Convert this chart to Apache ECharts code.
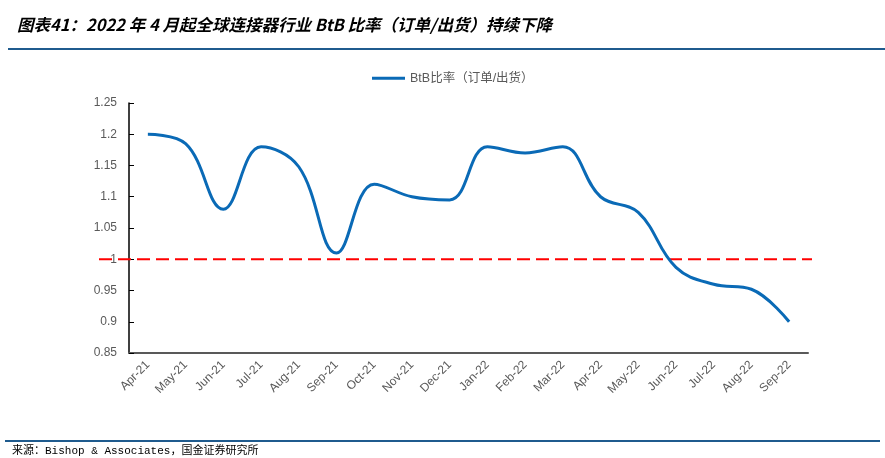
<!DOCTYPE html>
<html>
<head>
<meta charset="utf-8">
<script src="https://cdn.jsdelivr.net/npm/echarts@6/dist/echarts.min.js"></script>
<style>
html,body{margin:0;padding:0;background:#fff;}
#c{width:885px;height:458px;}
</style>
</head>
<body>
<div id="c"></div>
<script>
const categories = ['Apr-21','May-21','Jun-21','Jul-21','Aug-21','Sep-21','Oct-21','Nov-21','Dec-21','Jan-22','Feb-22','Mar-22','Apr-22','May-22','Jun-22','Jul-22','Aug-22','Sep-22'];
const btbValues = [1.20,1.185,1.08,1.18,1.148,1.01,1.12,1.10,1.095,1.18,1.17,1.18,1.10,1.075,0.987,0.96,0.952,0.90];
const refLevel = 1;
const yTicks = {min:0.85, max:1.25, interval:0.05};
const seriesName = 'BtB比率（订单/出货）';
const titleText = '图表41：2022 年 4 月起全球连接器行业 BtB 比率（订单/出货）持续下降';
const sourceText = '来源：Bishop & Associates，国金证券研究所';

const chart = echarts.init(document.getElementById('c'));
const fmt = v => String(Math.round(v*100)/100);
chart.setOption({
  animation:false,
  backgroundColor:'#fff',
  title:{
    text:titleText, left:12, top:11,
    textStyle:{fontSize:16.5, fontWeight:'bold', fontStyle:'italic', color:'#000', fontFamily:'Noto Sans CJK SC'}
  },
  legend:{
    data:[seriesName], top:67, left:367,
    itemWidth:33, itemHeight:3, itemGap:2,
    icon:'rect',
    textStyle:{fontSize:12.5, color:'#595959', fontFamily:'Liberation Sans, Noto Sans CJK SC'}
  },
  graphic:[
    {type:'rect', shape:{x:8,y:48,width:877,height:2}, style:{fill:'#1f5b8e'}, silent:true},
    {type:'rect', shape:{x:5,y:440,width:875,height:2}, style:{fill:'#1f5b8e'}, silent:true},
    {type:'text', left:12, top:446, style:{text:sourceText, fontSize:11, fill:'#000', fontFamily:'Liberation Mono, Noto Sans CJK SC'}}
  ],
  grid:[
    {left:129, right:77, top:103, bottom:105},
    {left:99, right:73, top:103, bottom:105}
  ],
  xAxis:[
    {
      type:'category', data:categories, gridIndex:0, boundaryGap:true,
      axisLine:{lineStyle:{color:'#595959', width:2}},
      axisTick:{inside:true, length:5, lineStyle:{color:'#000'}},
      axisLabel:{rotate:45, fontSize:12, color:'#595959', interval:0, fontFamily:'Liberation Sans', margin:10},
      splitLine:{show:false}
    },
    {type:'value', gridIndex:1, min:0, max:1, show:false}
  ],
  yAxis:[
    {
      type:'value', gridIndex:0, min:yTicks.min, max:yTicks.max, interval:yTicks.interval,
      axisLine:{show:true, lineStyle:{color:'#000', width:1.5}},
      axisTick:{show:true, inside:true, length:5, lineStyle:{color:'#000'}},
      axisLabel:{fontSize:12, color:'#595959', fontFamily:'Liberation Sans', margin:12, formatter:fmt},
      splitLine:{show:false}
    },
    {type:'value', gridIndex:1, min:yTicks.min, max:yTicks.max, show:false}
  ],
  series:[
    {
      name:'ref', type:'line', xAxisIndex:1, yAxisIndex:1,
      data:[[0,refLevel],[1,refLevel]], symbol:'none', silent:true,
      lineStyle:{color:'#ff0000', width:2, type:[13,6]}, z:1
    },
    {
      name:seriesName, type:'line', data:btbValues, smooth:0.4, symbol:'none',
      lineStyle:{color:'#0a6ab6', width:3}, itemStyle:{color:'#0a6ab6'}, z:3
    }
  ]
});
</script>
</body>
</html>
